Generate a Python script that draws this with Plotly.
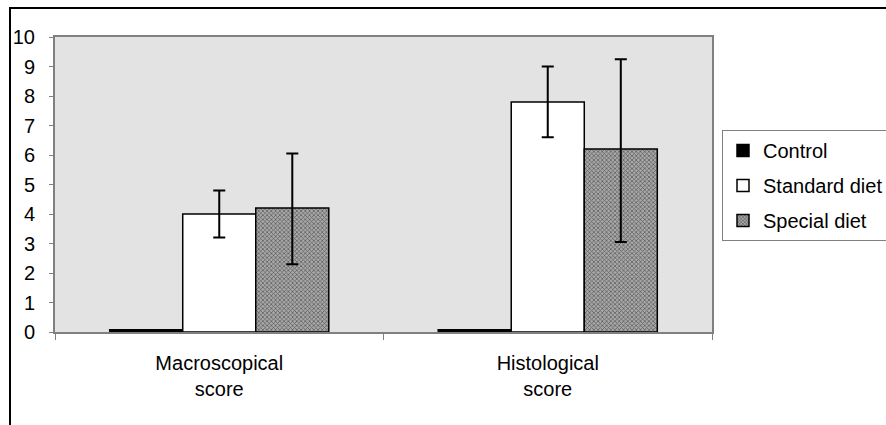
import plotly.graph_objects as go

categories = ["Macroscopical<br>score", "Histological<br>score"]
series_names = ["Control", "Standard diet", "Special diet"]
control_vals = [0.08, 0.08]
standard_vals = [4.0, 7.8]
standard_err_plus = [0.8, 1.2]
standard_err_minus = [0.8, 1.2]
special_vals = [4.2, 6.2]
special_err_plus = [1.85, 3.05]
special_err_minus = [1.9, 3.15]
y_ticks = list(range(0, 11))

W, H = 886, 425
L, R, T, B = 55, 174, 37, 93
pw, ph = W - L - R, H - T - B

fig = go.Figure()
fig.add_trace(go.Bar(
    name=series_names[0], x=categories, y=control_vals,
    marker=dict(color="black", line=dict(color="black", width=1.5)),
    legendgroup="a",
))
fig.add_trace(go.Bar(
    name=series_names[1], x=categories, y=standard_vals,
    marker=dict(color="white", line=dict(color="black", width=1.5)),
    error_y=dict(type="data", symmetric=False, array=standard_err_plus,
                 arrayminus=standard_err_minus, color="black", thickness=2, width=6),
    legendgroup="b",
))
fig.add_trace(go.Bar(
    name=series_names[2], x=categories, y=special_vals,
    marker=dict(color="#8c8c8c", line=dict(color="black", width=1.5),
                pattern=dict(shape="x", size=3, solidity=0.4, fgcolor="#555555",
                             bgcolor="#a8a8a8", fillmode="replace")),
    error_y=dict(type="data", symmetric=False, array=special_err_plus,
                 arrayminus=special_err_minus, color="black", thickness=2, width=6),
    legendgroup="c",
))

# outer frame (only top and left visible in the original)
fig.add_shape(type="rect", xref="paper", yref="paper",
              x0=(10 - L) / pw, x1=(W + 20 - L) / pw,
              y0=-(H + 20 - T - ph) / ph, y1=1 + (T - 8) / ph,
              line=dict(color="black", width=2), layer="below")

fig.update_layout(
    width=W, height=H,
    margin=dict(l=L, r=R, t=T, b=B, autoexpand=False),
    paper_bgcolor="white",
    plot_bgcolor="#e3e3e3",
    barmode="group",
    bargap=0.333,
    bargroupgap=0,
    font=dict(family="Arial, Liberation Sans, sans-serif", size=20, color="black"),
    showlegend=True,
    legend=dict(
        x=(722 - L) / pw, y=1 - (130 - T) / ph, xanchor="left", yanchor="top",
        bordercolor="#808080", borderwidth=1, bgcolor="white",
        font=dict(size=20), tracegroupgap=6, itemwidth=30,
    ),
    xaxis=dict(
        showline=True, linecolor="#808080", linewidth=2, mirror=True,
        ticks="outside", tickson="boundaries", ticklen=6, tickcolor="#808080",
        tickwidth=1, showgrid=False, ticklabelstandoff=12,
    ),
    yaxis=dict(
        range=[0, 10], tickvals=y_ticks, showline=True, linecolor="#808080",
        linewidth=2, mirror=True, ticks="outside", ticklen=4, tickcolor="#808080",
        showgrid=False, zeroline=False, ticklabelstandoff=10,
    ),
)

fig.write_html("out.html", config={"displayModeBar": False},
               post_script="document.body.style.margin='0';document.body.style.overflow='hidden';")
